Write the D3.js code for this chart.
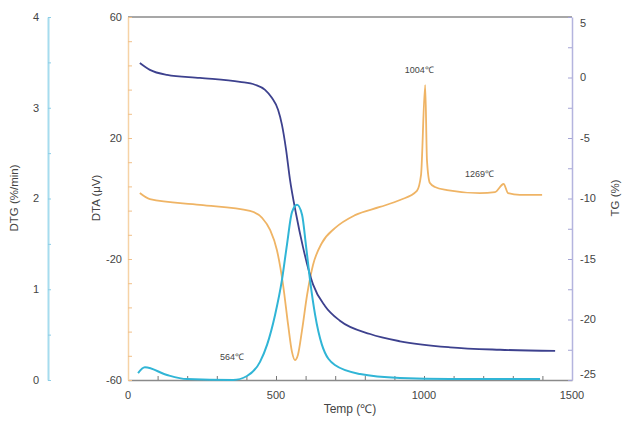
<!DOCTYPE html>
<html>
<head>
<meta charset="utf-8">
<script src="https://cdn.jsdelivr.net/npm/d3@7/dist/d3.min.js"></script>
<style>
  html, body { margin: 0; padding: 0; background: #fff; }
  svg { display: block; }
  text { font-family: "Liberation Sans", Arial, sans-serif; fill: #444; }
</style>
</head>
<body>
<svg id="chart" width="626" height="424"></svg>
<script>
// Thermal analysis: DTA (µV), TG (%) and DTG (%/min) against temperature (°C)
const dtaTemp = [40, 74, 243, 412, 453, 480, 503, 524, 541, 554, 564, 574, 588, 605, 625, 655, 699, 767, 851, 919, 976, 990, 1004, 1010, 1020, 1037, 1078, 1189, 1240, 1269, 1284, 1324, 1399];
const dtaValue = [1.8, -0.2, -2.1, -4.1, -6.4, -10.4, -17.0, -28.6, -41.8, -50.7, -53.4, -51.7, -43.5, -31.9, -22.0, -14.7, -9.8, -5.5, -2.8, -0.5, 2.5, 7.8, 37.5, 12.7, 5.1, 3.8, 2.8, 1.8, 2.1, 4.8, 1.8, 1.2, 1.2];

const tgTemp = [40, 74, 132, 243, 378, 429, 463, 486, 507, 520, 534, 547, 568, 591, 625, 666, 716, 818, 919, 1088, 1257, 1443];
const tgValue = [1.2, 0.63, 0.22, -0.03, -0.36, -0.6, -1.02, -1.68, -2.67, -3.9, -5.96, -8.4, -11.3, -14.0, -17.1, -18.9, -20.1, -21.2, -21.8, -22.3, -22.5, -22.6];

const dtgTemp = [34, 57, 132, 199, 355, 402, 446, 470, 497, 520, 537, 554, 571, 588, 601, 615, 632, 655, 699, 784, 919, 1088, 1392];
const dtgValue = [0.077, 0.14, 0.055, 0.01, 0.0, 0.044, 0.2, 0.39, 0.72, 1.10, 1.49, 1.85, 1.93, 1.82, 1.49, 1.10, 0.72, 0.39, 0.165, 0.066, 0.022, 0.01, 0.01];

// Peak annotations on the DTA trace
const peakTemps = [564, 1004, 1269];
const peakLabels = ["564℃", "1004℃", "1269℃"];

const xTicks = [0, 500, 1000, 1500];
const dtaTicks = [-60, -20, 20, 60];
const tgTicks = [5, 0, -5, -10, -15, -20, -25];
const dtgTicks = [0, 1, 2, 3, 4];

const svg = d3.select("#chart");
const plotLeft = 128, plotRight = 572, plotTop = 17, plotBottom = 380;

const x = d3.scaleLinear().domain([0, 1500]).range([plotLeft, plotRight]);
const yDta = d3.scaleLinear().domain([-60, 60]).range([plotBottom, plotTop]);
const yTg = d3.scaleLinear().domain([-25, 5]).range([plotBottom, plotTop]);
const yDtg = d3.scaleLinear().domain([0, 4]).range([plotBottom, plotTop]);

const cOrange = "#efb465", cNavy = "#3d418e", cCyan = "#30b5d6";

// Frame top line
svg.append("line").attr("x1", plotLeft).attr("x2", plotRight).attr("y1", plotTop).attr("y2", plotTop)
  .attr("stroke", "#8a8a8a").attr("stroke-width", 1.5);

// Bottom temperature axis, ticks pointing inward
const gx = svg.append("g").attr("transform", `translate(0,${plotBottom})`);
gx.call(d3.axisBottom(x).tickValues(d3.range(0, 1501, 100)).tickSize(-4).tickSizeOuter(0).tickFormat(""));
gx.select(".domain").attr("stroke", "#8a8a8a").attr("stroke-width", 1.5);
gx.selectAll(".tick line").attr("stroke", "#777");
gx.selectAll("text.lab").data(xTicks).join("text").attr("class", "lab")
  .attr("x", d => x(d)).attr("y", 19).attr("text-anchor", "middle")
  .attr("font-size", 11).text(d => d);
svg.append("text").attr("x", 350).attr("y", 413).attr("text-anchor", "middle")
  .attr("font-size", 12).text("Temp (℃)");

// Left DTA axis
const gDta = svg.append("g").attr("transform", `translate(${plotLeft},0)`);
gDta.call(d3.axisRight(yDta).tickValues(d3.range(-60, 61, 8)).tickSize(4).tickSizeOuter(0).tickFormat(""));
gDta.select(".domain").attr("stroke", "#f6d3a6").attr("stroke-width", 1.5);
gDta.selectAll(".tick line").attr("stroke", "#f0c08a");
gDta.selectAll("text.lab").data(dtaTicks).join("text").attr("class", "lab")
  .attr("x", -6).attr("y", d => yDta(d)).attr("dy", "0.35em").attr("text-anchor", "end")
  .attr("font-size", 11).text(d => d);
svg.append("text").attr("transform", "translate(100,198) rotate(-90)")
  .attr("text-anchor", "middle").attr("font-size", 11.5).text("DTA (μV)");

// Right TG axis
const gTg = svg.append("g").attr("transform", `translate(${plotRight},0)`);
gTg.call(d3.axisLeft(yTg).tickValues(d3.range(-25, 5.1, 2.5)).tickSize(4).tickSizeOuter(0).tickFormat(""));
gTg.select(".domain").attr("stroke", "#b4b4de").attr("stroke-width", 1.5);
gTg.selectAll(".tick line").attr("stroke", "#a4a4d4");
gTg.selectAll("text.lab").data(tgTicks).join("text").attr("class", "lab")
  .attr("x", 8).attr("y", d => Math.min(Math.max(yTg(d), plotTop + 6), plotBottom - 6))
  .attr("dy", "0.35em").attr("text-anchor", "start")
  .attr("font-size", 11).text(d => d);
svg.append("text").attr("transform", "translate(619,198) rotate(-90)")
  .attr("text-anchor", "middle").attr("font-size", 11.5).text("TG (%)");

// Detached DTG axis on the far left
const dtgX = 48;
const gDtg = svg.append("g").attr("transform", `translate(${dtgX},0)`);
gDtg.call(d3.axisRight(yDtg).tickValues(d3.range(0, 4.01, 0.5)).tickSize(3).tickSizeOuter(0).tickFormat(""));
gDtg.select(".domain").attr("stroke", "#a6dcee").attr("stroke-width", 2);
gDtg.selectAll(".tick line").attr("stroke", "#8ccde6");
gDtg.selectAll("text.lab").data(dtgTicks).join("text").attr("class", "lab")
  .attr("x", -9).attr("y", d => yDtg(d)).attr("dy", "0.35em").attr("text-anchor", "end")
  .attr("font-size", 11).text(d => d);
svg.append("text").attr("transform", "translate(18,198) rotate(-90)")
  .attr("text-anchor", "middle").attr("font-size", 11.5).text("DTG (%/min)");

// Data traces
const lineOf = (xs, ys, yScale) => d3.line()
  .x((d, i) => x(xs[i])).y((d, i) => yScale(ys[i]))
  .curve(d3.curveMonotoneX)(ys);

svg.append("path").attr("d", lineOf(dtaTemp, dtaValue, yDta))
  .attr("fill", "none").attr("stroke", cOrange).attr("stroke-width", 1.8);
svg.append("path").attr("d", lineOf(tgTemp, tgValue, yTg))
  .attr("fill", "none").attr("stroke", cNavy).attr("stroke-width", 1.8);
svg.append("path").attr("d", lineOf(dtgTemp, dtgValue, yDtg))
  .attr("fill", "none").attr("stroke", cCyan).attr("stroke-width", 2);

// Peak temperature labels
const dtaAt = t => dtaValue[dtaTemp.indexOf(t)];
const labelOffsets = [[-63, 0], [-6, -12], [-24, -7]];
peakTemps.forEach((t, i) => {
  svg.append("text")
    .attr("x", x(t) + labelOffsets[i][0]).attr("y", yDta(dtaAt(t)) + labelOffsets[i][1])
    .attr("text-anchor", "middle").attr("font-size", 9).attr("fill", "#555")
    .text(peakLabels[i]);
});
</script>
</body>
</html>
